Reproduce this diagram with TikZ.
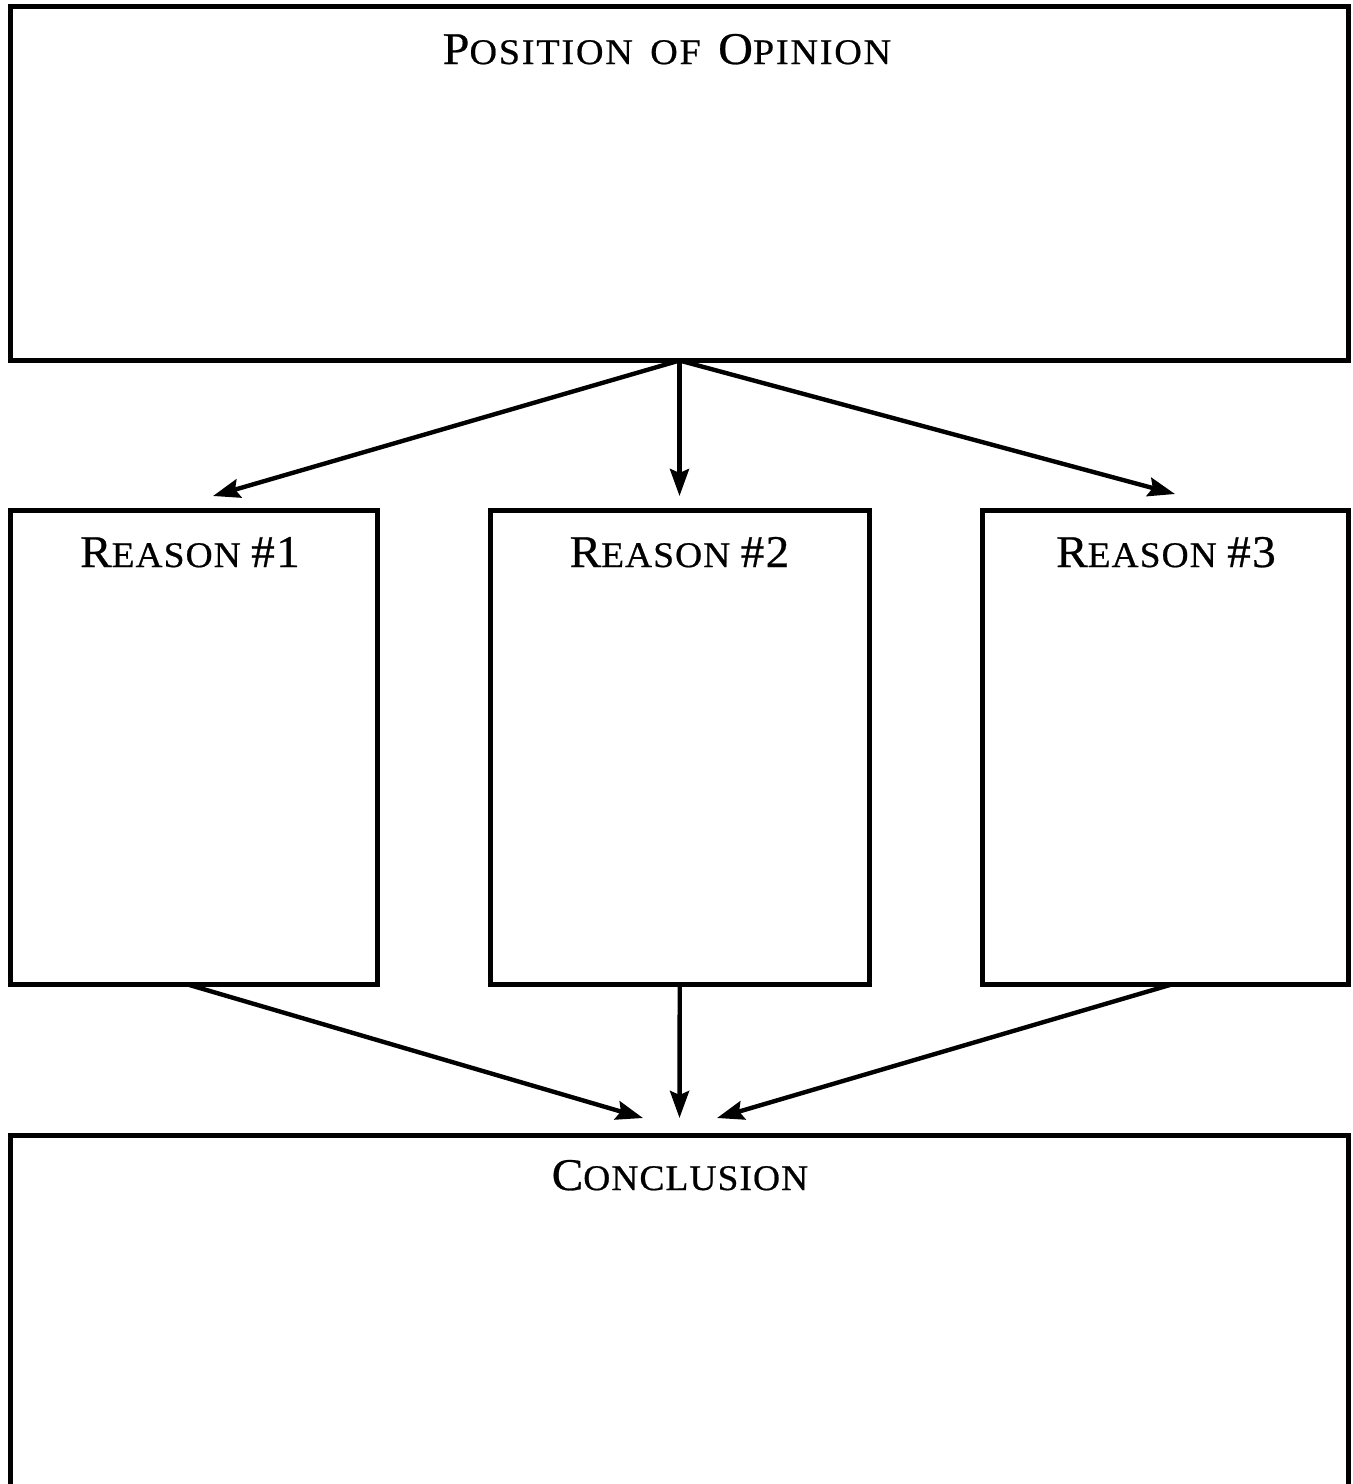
\documentclass[tikz,border=0pt]{standalone}
\usepackage{fontspec}
\newfontfamily\capsfont[FakeBold=0.6,FakeStretch=1.04,LetterSpace=3]{Liberation Serif}
\newfontfamily\capsfontw[FakeBold=0.6,FakeStretch=1.06,LetterSpace=5]{Liberation Serif}
\newcommand\bigC[1]{{\fontsize{22.7}{26}\selectfont #1}}
\newcommand\smC[1]{{\fontsize{18}{22}\selectfont #1}}
\usetikzlibrary{arrows.meta,fit}
\begin{document}
\begin{tikzpicture}[x=0.5pt,y=-0.5pt,
  box/.style={draw,line width=2.5pt,inner sep=0pt,outer sep=0pt},
  ttl/.style={font=\capsfont,anchor=base,inner sep=0pt},
  ttlw/.style={font=\capsfontw,anchor=base,inner sep=0pt},
  conn/.style={line width=2.2pt,-{Stealth[length=13.5pt,width=9.5pt,inset=2pt]}}]
\clip (0,0) rectangle (1353,1484);
\node[box,fit={(10.5,6.5) (1348.5,360.5)}] (top) {};
\node[box,fit={(10.5,510.5) (377,984.5)}] (r1) {};
\node[box,fit={(490.5,510.5) (869,984.5)}] (r2) {};
\node[box,fit={(982.5,510.5) (1348.5,984.5)}] (r3) {};
\node[box,fit={(10.5,1135) (1348.5,1560)}] (con) {};
\node[ttlw] (ttop) at (667,64) {\bigC{P}\smC{OSITION\hspace{3pt} OF\hspace{3pt} }\bigC{O}\smC{PINION}};
\node[ttl] (tr1) at (190,567) {\bigC{R}\smC{EASON }\bigC{\#1}};
\node[ttl] (tr2) at (679.5,567) {\bigC{R}\smC{EASON }\bigC{\#2}};
\node[ttl] (tr3) at (1166,567) {\bigC{R}\smC{EASON }\bigC{\#3}};
\node[ttl] (tcon) at (680,1190) {\bigC{C}\smC{ONCLUSION}};
\coordinate (a1) at (213,496);
\coordinate (a2) at (679.5,496);
\coordinate (a3) at (1175,494);
\coordinate (b1) at (643,1118);
\coordinate (b2) at (679.5,1118);
\coordinate (b3) at (717,1118);
\draw[conn] (top.south) -- (a1);
\draw[conn] (top.south) -- (a2);
\draw[conn] (top.south) -- (a3);
\draw[conn] ([xshift=-3pt]r1.south) -- (b1);
\draw[conn] (r2.south) -- (b2);
\draw[conn] ([xshift=3pt]r3.south) -- (b3);
\end{tikzpicture}
\end{document}
